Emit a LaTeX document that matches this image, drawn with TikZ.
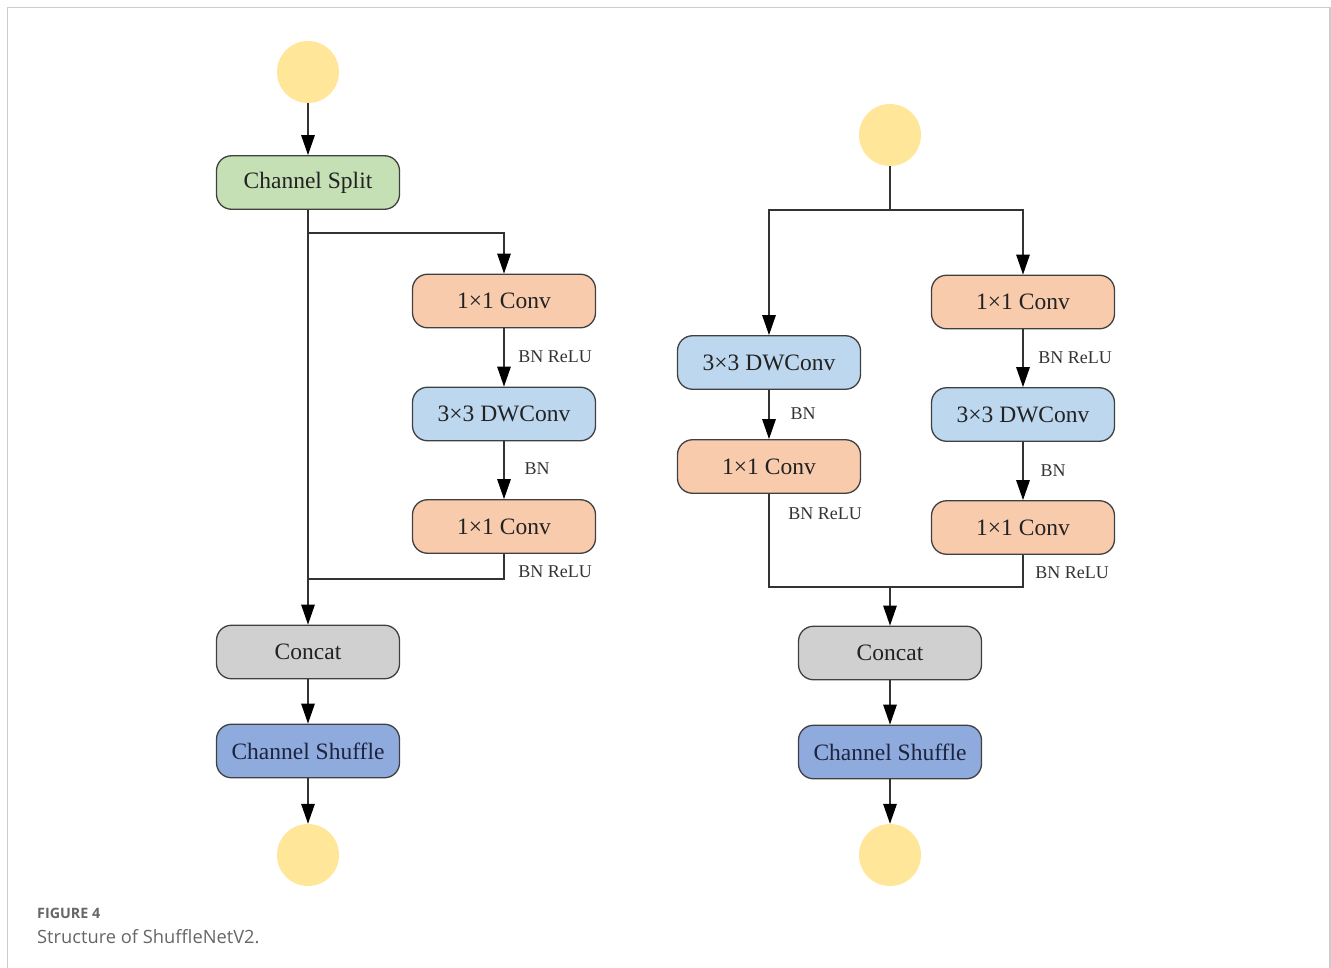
\documentclass[tikz,border=0pt]{standalone}
\usepackage{fontspec}
\setmainfont{Liberation Serif}
\newfontfamily\capfont{Open Sans}
\usetikzlibrary{arrows.meta}
\definecolor{cyel}{HTML}{FFE699}
\definecolor{cgreen}{HTML}{C5E0B4}
\definecolor{corange}{HTML}{F8CBAD}
\definecolor{clblue}{HTML}{BDD7EE}
\definecolor{cgray}{HTML}{D0D0D0}
\definecolor{cdblue}{HTML}{8FAADC}
\definecolor{cborder}{HTML}{404040}
\definecolor{ctext}{HTML}{222222}
\definecolor{cnavy}{HTML}{1C2540}
\definecolor{clabel}{HTML}{333333}
\definecolor{cframe}{HTML}{CCCCCC}
\definecolor{ccap}{HTML}{666666}
\begin{document}
\begin{tikzpicture}[x=1pt,y=-1pt,
  box/.style={draw=cborder, line width=1.3pt, rounded corners=15pt, minimum width=183pt, minimum height=53.5pt, inner sep=0pt, text=ctext, font=\fontsize{23.5}{28}\selectfont},
  io/.style={circle, fill=cyel, minimum size=62pt, inner sep=0pt},
  lbl/.style={text=clabel, font=\fontsize{18}{22}\selectfont, inner sep=0pt},
  conn/.style={draw=black!80, line width=1.4pt},
  arr/.style={conn, -{Triangle[width=13.5pt,length=20pt,fill=black,color=black]}}
]
\useasboundingbox (0,0) rectangle (1331,968);
\draw[cframe, line width=1.5pt] (7.5,968) -- (7.5,7.5) -- (1330,7.5) -- (1330,968);

% ---------- left unit ----------
\node[io] (inL) at (308,72) {};
\node[box, fill=cgreen] (split) at (308,182.5) {Channel Split};
\node[box, fill=corange] (c1L) at (504,301) {1×1 Conv};
\node[box, fill=clblue] (dwL) at (504,414) {3×3 DWConv};
\node[box, fill=corange] (c2L) at (504,526.5) {1×1 Conv};
\node[box, fill=cgray] (catL) at (308,652) {Concat};
\node[box, fill=cdblue, text=cnavy] (shL) at (308,751) {Channel Shuffle};
\node[io] (outL) at (308,855) {};
\coordinate (jL1) at (308,233);
\coordinate (jL2) at (308,579);

\draw[arr] (inL) -- (split);
\draw[arr] (split) -- (catL);
\draw[arr] (jL1) -| (c1L.north);
\draw[arr] (c1L) -- (dwL);
\draw[arr] (dwL) -- (c2L);
\draw[conn] (c2L.south) |- (jL2);
\draw[arr] (catL) -- (shL);
\draw[arr] (shL) -- (outL);

\node[lbl] (l1) at (555,357) {BN ReLU};
\node[lbl] (l2) at (537,469) {BN};
\node[lbl] (l3) at (555,572) {BN ReLU};

% ---------- right unit ----------
\node[io] (inR) at (890,135) {};
\node[box, fill=clblue] (dwRa) at (769,362.5) {3×3 DWConv};
\node[box, fill=corange] (cRa) at (769,466.5) {1×1 Conv};
\node[box, fill=corange] (c1R) at (1023,302) {1×1 Conv};
\node[box, fill=clblue] (dwR) at (1023,414.5) {3×3 DWConv};
\node[box, fill=corange] (c2R) at (1023,527.5) {1×1 Conv};
\node[box, fill=cgray] (catR) at (890,653) {Concat};
\node[box, fill=cdblue, text=cnavy] (shR) at (890,752) {Channel Shuffle};
\node[io] (outR) at (890,855) {};
\coordinate (jR1) at (890,210);
\coordinate (jR2) at (890,587);

\draw[conn] (inR) -- (jR1);
\draw[arr] (jR1) -| (dwRa.north);
\draw[arr] (jR1) -| (c1R.north);
\draw[arr] (dwRa) -- (cRa);
\draw[arr] (c1R) -- (dwR);
\draw[arr] (dwR) -- (c2R);
\draw[conn] (cRa.south) |- (jR2);
\draw[conn] (c2R.south) |- (jR2);
\draw[arr] (jR2) -- (catR.north);
\draw[arr] (catR) -- (shR);
\draw[arr] (shR) -- (outR);

\node[lbl] (r1) at (803,414) {BN};
\node[lbl] (r2) at (825,514) {BN ReLU};
\node[lbl] (r3) at (1075,358) {BN ReLU};
\node[lbl] (r4) at (1053,471) {BN};
\node[lbl] (r5) at (1072,573) {BN ReLU};

% ---------- caption ----------
\node[anchor=west, inner sep=0pt, text=ccap, font=\capfont\bfseries\fontsize{14.3}{16}\selectfont] (fig) at (37,913) {FIGURE 4};
\node[anchor=west, inner sep=0pt, text=ccap, font=\capfont\fontsize{18.3}{20}\selectfont] (cap) at (37,937) {Structure of ShuffleNetV2.};
\end{tikzpicture}
\end{document}
